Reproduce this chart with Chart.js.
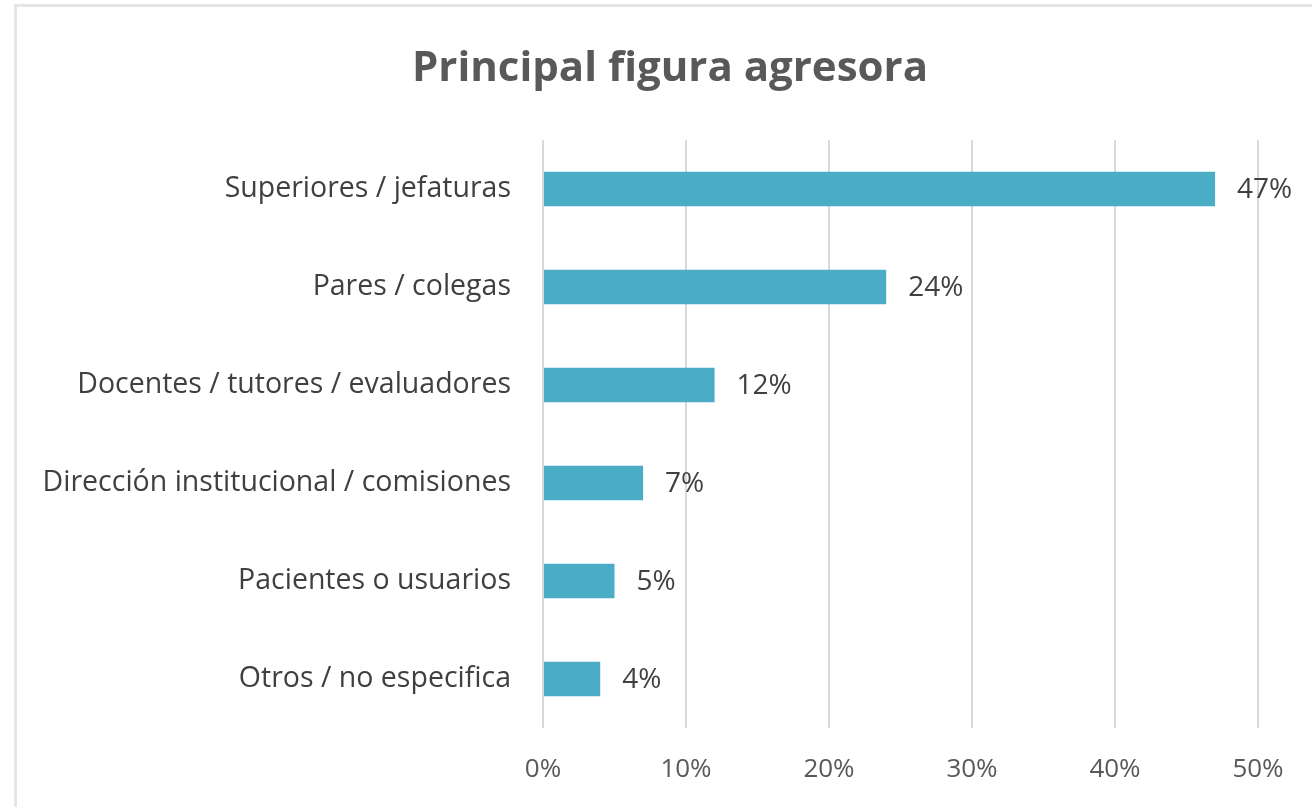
<!DOCTYPE html>
<html>
<head>
<meta charset="utf-8">
<script src="https://cdn.jsdelivr.net/npm/chart.js@4.4.0/dist/chart.umd.min.js"></script>
<style>
  html, body { margin: 0; padding: 0; background: #fff; }
  #wrap { position: relative; width: 1312px; height: 807px; overflow: hidden; }
  #frame { position: absolute; left: 14px; top: 4px; width: 1400px; height: 900px; border: 3px solid #e6e6e6; box-sizing: border-box; }
  canvas { position: absolute; left: 0; top: 0; }
</style>
</head>
<body>
<div id="wrap">
  <div id="frame"></div>
  <canvas id="c" width="1312" height="807"></canvas>
</div>
<script>
const categories = [
  "Superiores / jefaturas",
  "Pares / colegas",
  "Docentes / tutores / evaluadores",
  "Dirección institucional / comisiones",
  "Pacientes o usuarios",
  "Otros / no especifica"
];
const values = [47, 24, 12, 7, 5, 4];
const tickValues = [0, 10, 20, 30, 40, 50];
const titleText = "Principal figura agresora";

const FONT = "'Open Sans', sans-serif";

const dataLabels = {
  id: 'dataLabels',
  afterDatasetsDraw(chart) {
    const ctx = chart.ctx;
    const meta = chart.getDatasetMeta(0);
    ctx.save();
    ctx.font = "28px " + FONT;
    ctx.fillStyle = "#404040";
    ctx.textAlign = "left";
    ctx.textBaseline = "middle";
    meta.data.forEach((bar, i) => {
      ctx.fillText(values[i] + "%", bar.x + 22, bar.y + 1);
    });
    ctx.restore();
  }
};

const chartTitle = {
  id: 'chartTitle',
  afterDraw(chart) {
    const ctx = chart.ctx;
    ctx.save();
    ctx.font = "bold 42px " + FONT;
    ctx.fillStyle = "#595959";
    ctx.textAlign = "center";
    ctx.textBaseline = "alphabetic";
    ctx.fillText(titleText, 670, 81);
    ctx.restore();
  }
};

new Chart(document.getElementById('c'), {
  type: 'bar',
  data: {
    labels: categories,
    datasets: [{
      data: values,
      backgroundColor: '#4BACC6',
      borderWidth: 0,
      categoryPercentage: 1,
      barPercentage: 0.35
    }]
  },
  options: {
    indexAxis: 'y',
    responsive: false,
    animation: false,
    layout: { padding: { left: 0, right: 54, top: 140, bottom: 22 } },
    plugins: {
      legend: { display: false },
      tooltip: { enabled: false },
      title: { display: false }
    },
    scales: {
      x: {
        min: 0, max: 50,
        afterBuildTicks(scale) { scale.ticks = tickValues.map(v => ({ value: v })); },
        afterFit(scale) { scale.height = 57; },
        ticks: {
          callback: v => v + '%',
          color: '#595959',
          font: { family: FONT, size: 26, lineHeight: 1.2 },
          padding: 26,
          maxRotation: 0
        },
        grid: { color: '#d9d9d9', lineWidth: 2, drawTicks: false },
        border: { display: false }
      },
      y: {
        afterFit(scale) { scale.width = 543; },
        ticks: {
          color: '#404040',
          font: { family: FONT, size: 28.5 },
          padding: 32
        },
        grid: { display: false, drawTicks: false },
        border: { display: false }
      }
    }
  },
  plugins: [dataLabels, chartTitle]
});
</script>
</body>
</html>
